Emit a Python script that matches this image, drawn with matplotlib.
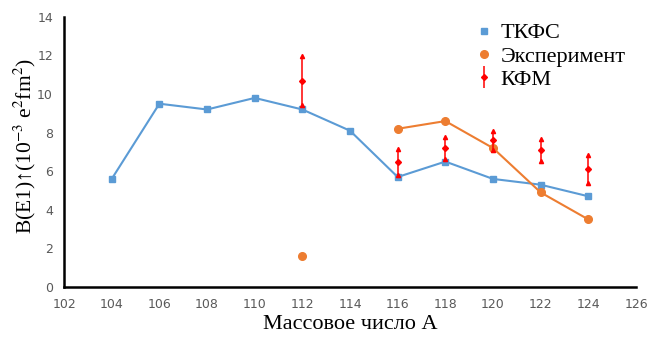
import numpy as np
import matplotlib
matplotlib.use("Agg")
import matplotlib.pyplot as plt
from matplotlib.lines import Line2D

# Data
A = [104, 106, 108, 110, 112, 114, 116, 118, 120, 122, 124]
tkfs = [5.6, 9.5, 9.2, 9.8, 9.2, 8.1, 5.7, 6.5, 5.6, 5.3, 4.7]
exp_A = [112, 114, 116, 118, 120, 122, 124]
exp_val = [1.6, np.nan, 8.2, 8.6, 7.2, 4.9, 3.5]
kfm_A = [112, 116, 118, 120, 122, 124]
kfm_val = [10.7, 6.5, 7.2, 7.6, 7.1, 6.1]
kfm_err = [1.25, 0.67, 0.58, 0.5, 0.57, 0.72]
xticks = list(range(102, 127, 2))
yticks = list(range(0, 15, 2))

plt.rcParams['mathtext.fontset'] = 'stix'

fig = plt.figure(figsize=(6.47, 3.38), dpi=100)
ax = fig.add_axes([0.099, 0.151, 0.884, 0.799])

blue = '#5B9BD5'
orange = '#ED7D31'
red = '#FF0000'

ax.plot(A, tkfs, color=blue, lw=1.5, marker='s', ms=5, zorder=3)
ax.plot(exp_A, exp_val, color=orange, lw=1.5, marker='o', ms=5.5, zorder=3)

kv = np.array(kfm_val); ke = np.array(kfm_err)
eb = ax.errorbar(kfm_A, kv, yerr=ke, fmt='D', color=red, ms=3, elinewidth=1.1, capsize=0, zorder=4)
ax.plot(kfm_A, kv + ke, ls='none', marker='^', color=red, ms=3, zorder=4)
ax.plot(kfm_A, kv - ke, ls='none', marker='^', color=red, ms=3, zorder=4)

ax.set_xlim(102, 126)
ax.set_ylim(0, 14)
ax.set_xticks(xticks)
ax.set_yticks(yticks)
ax.tick_params(length=0, labelsize=9, labelcolor='#595959', pad=8)
for s in ['top', 'right']:
    ax.spines[s].set_visible(False)
for s in ['left', 'bottom']:
    ax.spines[s].set_linewidth(1.8)
    ax.spines[s].set_color('black')

ax.set_xlabel('Массовое число А', family='Liberation Serif', fontsize=16, labelpad=3)
ax.set_ylabel('B(E1)↑(10$^{-3}$ e$^{2}$fm$^{2}$)', family=['Liberation Serif', 'DejaVu Sans'],
              fontsize=15.5)
ax.yaxis.set_label_coords(-0.045, 0.52)

h1 = Line2D([], [], ls='none', marker='s', color=blue, ms=5)
h2 = Line2D([], [], ls='none', marker='o', color=orange, ms=5.5)
leg = fig.legend([h1, h2, eb], ['ТКФС', 'Эксперимент', 'КФМ'],
                 loc='upper left', bbox_to_anchor=(0.72, 0.965), frameon=False,
                 prop={'family': 'Liberation Serif', 'size': 16},
                 handlelength=0.6, handletextpad=0.45, labelspacing=0.12, borderpad=0)

fig.savefig('out.png', dpi=100)
